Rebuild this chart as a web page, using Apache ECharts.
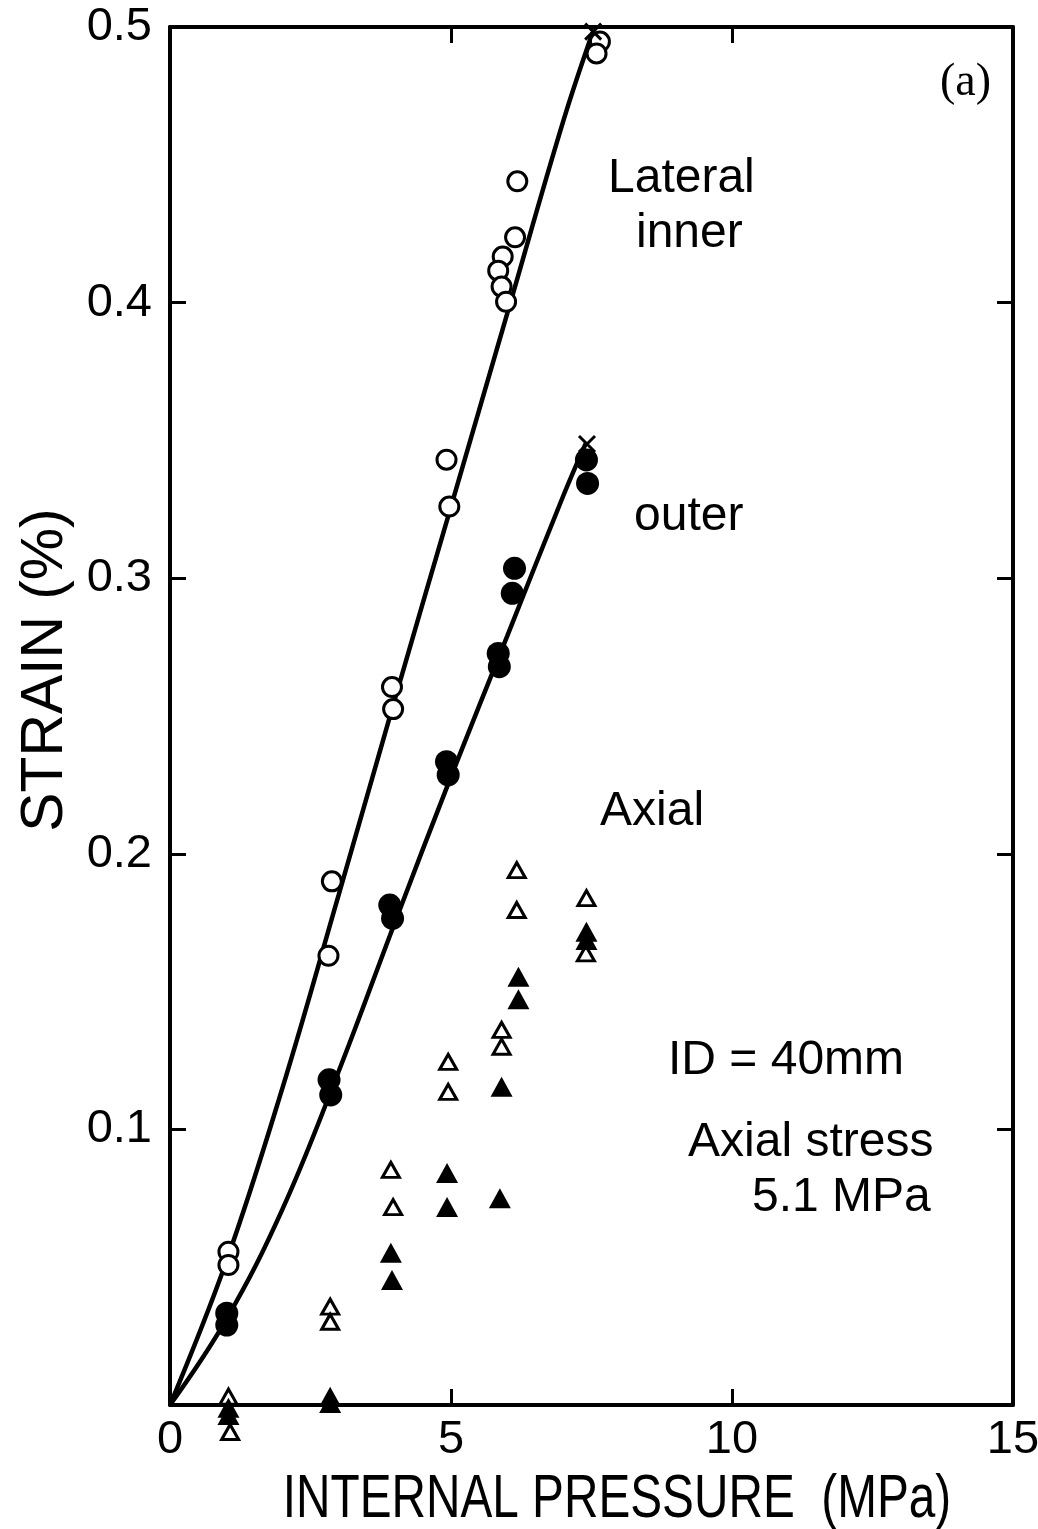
<!DOCTYPE html>
<html>
<head>
<meta charset="utf-8">
<title>Strain vs internal pressure</title>
<script src="https://cdn.jsdelivr.net/npm/echarts@6/dist/echarts.min.js"></script>
<style>
  html, body { margin: 0; padding: 0; background: #ffffff; }
  #chart { width: 1038px; height: 1529px; }
</style>
</head>
<body>
<div id="chart"></div>
<script>
// Tick labels
const xTickLabels = ['0', '5', '10', '15'];
const yTickLabels = ['', '0.1', '0.2', '0.3', '0.4', '0.5'];

// Lateral strain, inner surface (open circles)
const innerP = [1.04, 1.04, 2.88, 2.82, 3.95, 3.97, 4.92, 4.97, 6.18, 6.14, 5.92, 5.84, 5.90, 5.98, 7.65, 7.59];
const innerS = [0.0556, 0.0508, 0.190, 0.163, 0.2605, 0.2525, 0.343, 0.326, 0.444, 0.4237, 0.4167, 0.4116, 0.4058, 0.4003, 0.4947, 0.4904];

// Lateral strain, outer surface (filled circles)
const outerP = [1.01, 1.01, 2.83, 2.86, 3.91, 3.96, 4.92, 4.95, 5.84, 5.86, 6.13, 6.09, 7.41, 7.43];
const outerS = [0.0333, 0.029, 0.118, 0.1125, 0.1814, 0.1766, 0.2334, 0.2286, 0.2727, 0.2679, 0.3036, 0.2945, 0.3429, 0.3344];

// Axial strain (open triangles)
const axialOpenP = [1.04, 1.07, 2.85, 2.85, 3.93, 3.97, 4.95, 4.95, 5.90, 5.90, 6.17, 6.17, 7.41, 7.40];
const axialOpenS = [0.003, -0.0098, 0.0357, 0.0302, 0.0853, 0.0718, 0.1245, 0.1136, 0.1361, 0.130, 0.1941, 0.1796, 0.1839, 0.1639];

// Axial strain (filled triangles)
const axialFillP = [1.04, 1.04, 2.85, 2.85, 3.93, 3.95, 4.93, 4.93, 5.90, 5.87, 6.20, 6.20, 7.41, 7.41];
const axialFillS = [-0.001, -0.0036, 0.003, 0.0007, 0.0552, 0.0454, 0.0842, 0.0718, 0.1155, 0.075, 0.1554, 0.1472, 0.1717, 0.1687];

// Failure points (crosses)
const failP = [7.53, 7.42];
const failS = [0.4983, 0.3487];

// Fitted curves
const innerFitP = [0, 1, 2, 3, 4, 5, 6, 7, 7.52];
const innerFitS = [0, 0.052, 0.115, 0.185, 0.256, 0.326, 0.396, 0.466, 0.498];
const outerFitP = [0, 1, 2, 3, 4, 5, 6, 7, 7.4];
const outerFitS = [0, 0.031, 0.071, 0.121, 0.175, 0.228, 0.279, 0.330, 0.349];

const pairs = (xs, ys) => xs.map((x, i) => [x, ys[i]]);

const INK = '#000000';
const LABEL_FONT = '"Liberation Sans", Arimo, Arial, sans-serif';

const frameLine = { show: true, onZero: false, lineStyle: { color: INK, width: 4 } };
const inTick = { show: true, inside: true, length: 16, lineStyle: { color: INK, width: 3 } };

const chart = echarts.init(document.getElementById('chart'), null, { renderer: 'canvas' });

const openStyle = { color: '#ffffff', borderColor: INK, borderWidth: 3, opacity: 1 };
const fillStyle = { color: INK, borderColor: INK, borderWidth: 0, opacity: 1 };

const noteStyle = (text, font) => ({
  text: text, font: font, fill: INK,
  textAlign: 'left', textVerticalAlign: 'middle', align: 'left', verticalAlign: 'middle'
});
const centredStyle = (text, font) => ({
  text: text, font: font, fill: INK,
  textAlign: 'center', textVerticalAlign: 'middle', align: 'center', verticalAlign: 'middle'
});

chart.setOption({
  animation: false,
  backgroundColor: '#ffffff',
  grid: {
    left: 170, right: 25, top: 27, bottom: 124,
    containLabel: false,
    outerBoundsMode: 'none'
  },
  xAxis: [
    {
      type: 'value', position: 'bottom', min: 0, max: 15, interval: 5,
      axisLine: frameLine, axisTick: inTick, splitLine: { show: false },
      axisLabel: {
        show: true, margin: 12, color: INK,
        fontFamily: LABEL_FONT, fontSize: 47,
        formatter: (v, i) => xTickLabels[i]
      }
    },
    {
      type: 'value', position: 'top', min: 0, max: 15, interval: 5,
      axisLine: frameLine, axisTick: inTick, splitLine: { show: false },
      axisLabel: { show: false }
    }
  ],
  yAxis: [
    {
      type: 'value', position: 'left', min: 0, max: 0.5, interval: 0.1,
      axisLine: frameLine, axisTick: inTick, splitLine: { show: false },
      axisLabel: {
        show: true, margin: 18, color: INK,
        fontFamily: LABEL_FONT, fontSize: 47,
        formatter: (v, i) => yTickLabels[i]
      }
    },
    {
      type: 'value', position: 'right', min: 0, max: 0.5, interval: 0.1,
      axisLine: frameLine, axisTick: inTick, splitLine: { show: false },
      axisLabel: { show: false }
    }
  ],
  series: [
    {
      name: 'Lateral inner fit', type: 'line', smooth: 0.4,
      showSymbol: false, clip: false, z: 2,
      lineStyle: { color: INK, width: 4.5 },
      data: pairs(innerFitP, innerFitS)
    },
    {
      name: 'Lateral outer fit', type: 'line', smooth: 0.4,
      showSymbol: false, clip: false, z: 2,
      lineStyle: { color: INK, width: 4.5 },
      data: pairs(outerFitP, outerFitS)
    },
    {
      name: 'Lateral inner', type: 'scatter', symbol: 'circle', symbolSize: 19,
      clip: false, z: 4, itemStyle: openStyle,
      data: pairs(innerP, innerS)
    },
    {
      name: 'Lateral outer', type: 'scatter', symbol: 'circle', symbolSize: 23,
      clip: false, z: 4, itemStyle: fillStyle,
      data: pairs(outerP, outerS)
    },
    {
      name: 'Axial (open)', type: 'scatter', symbol: 'triangle', symbolSize: [17, 15],
      clip: false, z: 4, itemStyle: openStyle,
      data: pairs(axialOpenP, axialOpenS)
    },
    {
      name: 'Axial (filled)', type: 'scatter', symbol: 'triangle', symbolSize: [22, 20],
      clip: false, z: 5, itemStyle: fillStyle,
      data: pairs(axialFillP, axialFillS)
    },
    {
      name: 'Failure', type: 'scatter', symbol: 'path://M0,0L10,10M10,0L0,10',
      symbolSize: 16, clip: false, z: 6,
      itemStyle: { color: 'none', borderColor: INK, borderWidth: 3, opacity: 1 },
      data: pairs(failP, failS)
    }
  ],
  graphic: [
    // axis titles, drawn tall and narrow
    {
      type: 'text', x: 45, y: 670, rotation: Math.PI / 2, scaleX: 0.98, z: 10,
      style: centredStyle('STRAIN (%)', '60px ' + LABEL_FONT)
    },
    {
      type: 'text', x: 617, y: 1500, scaleX: 0.77, z: 10,
      style: centredStyle('INTERNAL PRESSURE  (MPa)', '62px ' + LABEL_FONT)
    },
    // panel tag and annotations
    { type: 'text', x: 940, y: 83, z: 10, style: noteStyle('(a)', '46px "Liberation Serif", "Times New Roman", serif') },
    { type: 'text', x: 608, y: 179, z: 10, style: noteStyle('Lateral', '48px ' + LABEL_FONT) },
    { type: 'text', x: 636, y: 234, z: 10, style: noteStyle('inner', '48px ' + LABEL_FONT) },
    { type: 'text', x: 634, y: 517, z: 10, style: noteStyle('outer', '48px ' + LABEL_FONT) },
    { type: 'text', x: 600, y: 812, z: 10, style: noteStyle('Axial', '48px ' + LABEL_FONT) },
    { type: 'text', x: 668, y: 1061, z: 10, style: noteStyle('ID = 40mm', '48px ' + LABEL_FONT) },
    { type: 'text', x: 688, y: 1143, z: 10, style: noteStyle('Axial stress', '48px ' + LABEL_FONT) },
    { type: 'text', x: 752, y: 1198, z: 10, style: noteStyle('5.1 MPa', '48px ' + LABEL_FONT) }
  ]
});
</script>
</body>
</html>
